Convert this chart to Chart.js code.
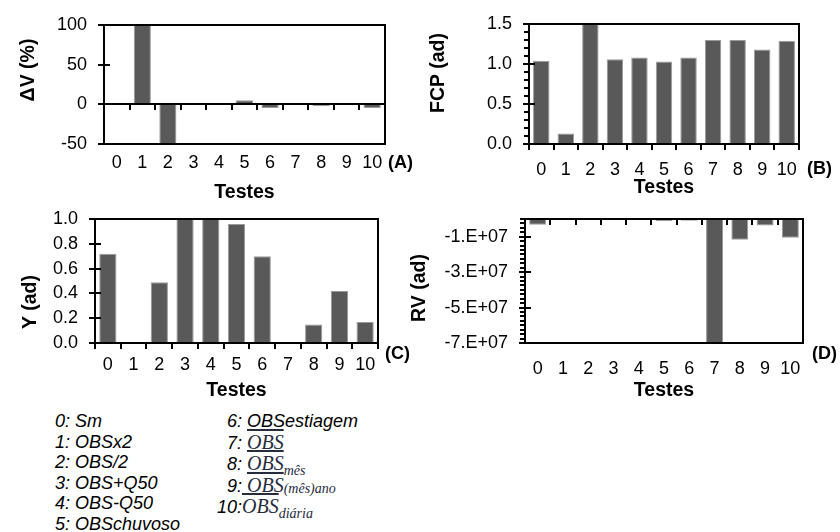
<!DOCTYPE html>
<html lang="pt">
<head>
<meta charset="utf-8">
<title>Testes</title>
<script src="https://cdn.jsdelivr.net/npm/chart.js@4.4.1/dist/chart.umd.min.js"></script>
<style>
  html, body { margin: 0; padding: 0; background: #fff; }
  #page { position: relative; width: 840px; height: 532px; overflow: hidden; font-family: 'Liberation Sans', Arial, sans-serif; color: #000; }
  #page canvas { position: absolute; }
  .ytitle { position: absolute; font-weight: bold; font-size: 19.5px; white-space: nowrap; transform: translate(-50%, -50%) rotate(-90deg); }
  .panel { position: absolute; font-weight: bold; font-size: 18px; transform: translateY(-50%); }
  .key { position: absolute; font-style: italic; font-size: 18px; line-height: 20.6px; white-space: nowrap; }
  .key .n { display: inline-block; width: 26px; text-align: right; }
  .obs { font-family: 'Liberation Serif', serif; font-style: italic; font-size: 20px; text-decoration: overline; color: #262b3d; }
  .key sub { font-family: 'Liberation Serif', serif; font-style: italic; font-size: 14px; line-height: 0; vertical-align: -5px; color: #262b3d; }
  .key sub.up { vertical-align: -1px; }
</style>
</head>
<body>
<div id="page">
  <canvas id="chartA" width="420" height="204" style="left:0;top:0"></canvas>
  <canvas id="chartB" width="420" height="199" style="left:420px;top:0"></canvas>
  <canvas id="chartC" width="420" height="202" style="left:0;top:200px"></canvas>
  <canvas id="chartD" width="420" height="202" style="left:420px;top:200px"></canvas>

  <div class="ytitle" style="left:27px;top:70px">ΔV (%)</div>
  <div class="ytitle" style="left:437px;top:73px">FCP (ad)</div>
  <div class="ytitle" style="left:29px;top:302px">Y (ad)</div>
  <div class="ytitle" style="left:418px;top:288px">RV (ad)</div>

  <div class="panel" style="left:388px;top:162px">(A)</div>
  <div class="panel" style="left:807px;top:168px">(B)</div>
  <div class="panel" style="left:385px;top:353px">(C)</div>
  <div class="panel" style="left:812px;top:353px">(D)</div>

  <div class="key" style="left:55px;top:411px">
    <div>0: Sm</div>
    <div>1: OBSx2</div>
    <div>2: OBS/2</div>
    <div>3: OBS+Q50</div>
    <div>4: OBS-Q50</div>
    <div>5: OBSchuvoso</div>
  </div>
  <div class="key" style="left:216px;top:411px">
    <div><span class="n">6:</span> OBSestiagem</div>
    <div><span class="n">7:</span> <span class="obs">OBS</span></div>
    <div><span class="n">8:</span> <span class="obs">OBS</span><sub>mês</sub></div>
    <div><span class="n">9:</span> <span class="obs">OBS</span><sub class="up">(mês)ano</sub></div>
    <div><span class="n">10:</span><span class="obs">OBS</span><sub>diária</sub></div>
  </div>
</div>

<script>
// --- data ---
const testes = ['0', '1', '2', '3', '4', '5', '6', '7', '8', '9', '10'];

const deltaV = [0, 100, -50, 0, 0, 5, -4.5, 0, -2.5, 0, -4.5];           // (A) %
const fcp    = [1.04, 0.13, 1.5, 1.06, 1.08, 1.03, 1.08, 1.3, 1.3, 1.18, 1.29]; // (B)
const yAd    = [0.72, 0, 0.49, 1.0, 1.0, 0.96, 0.70, 0, 0.15, 0.42, 0.17];  // (C)
const rv     = [-3.2e6, 0, 0, -0.6e6, 0, -1.3e6, -1.0e6, -7.0e7, -1.17e7, -3.7e6, -1.06e7]; // (D)

// major tick labels on each y axis
const deltaVTicks = [-50, 0, 50, 100];
const fcpTicks    = [0, 0.5, 1.0, 1.5];
const yAdTicks    = [0, 0.2, 0.4, 0.6, 0.8, 1.0];
const rvTicks     = [-7e7, -5e7, -3e7, -1e7];

const BAR = '#595959';
const FONT = "'Liberation Sans', Arial, sans-serif";
const LW = 2; // axis line width

const isMajor = (list, v) => list.some(t => Math.abs(t - v) < 1e-9 * Math.max(1, Math.abs(t)));

// frame, zero line and tick marks, Excel style
function axisMarks(major) {
    return {
        id: 'axisMarks',
        afterDraw(chart) {
            const ctx = chart.ctx;
            const a = chart.chartArea;
            const xs = chart.scales.x;
            const ys = chart.scales.y;
            ctx.fillStyle = '#000';
            ctx.fillRect(a.left - 1, a.top - 1, a.right - a.left + 2, LW);
            ctx.fillRect(a.left - 1, a.bottom - 1, a.right - a.left + 2, LW);
            ctx.fillRect(a.left - 1, a.top - 1, LW, a.bottom - a.top + 2);
            ctx.fillRect(a.right - 1, a.top - 1, LW, a.bottom - a.top + 2);

            const y0 = Math.round(ys.getPixelForValue(0));
            ctx.fillRect(a.left - 1, y0 - 1, a.right - a.left + 2, LW);
            for (let i = 0; i <= testes.length; i++) {
                const px = Math.round(xs.getPixelForValue(i - 0.5));
                ctx.fillRect(px - 1, y0, LW, 6);
            }
            ys.ticks.forEach(t => {
                const py = Math.round(ys.getPixelForValue(t.value));
                if (isMajor(major, t.value)) {
                    ctx.fillRect(a.left - 6, py - 1, 12, LW);
                } else {
                    ctx.fillRect(a.left - 5, py - 1, 5, LW);
                }
            });
        }
    };
}

function barPanel(id, values, yOpts, box) {
    return new Chart(document.getElementById(id), {
        type: 'bar',
        data: {
            labels: testes,
            datasets: [{
                data: values,
                backgroundColor: BAR,
                borderColor: '#9a9a9a',
                borderWidth: 1,
                categoryPercentage: 1,
                barPercentage: 0.67
            }]
        },
        options: {
            responsive: false,
            animation: false,
            layout: { padding: { top: box.top, right: box.right, left: 0, bottom: 0 } },
            plugins: {
                legend: { display: false },
                tooltip: { enabled: false }
            },
            scales: {
                x: {
                    offset: true,
                    grid: { display: false, drawTicks: false },
                    border: { display: false },
                    ticks: { color: '#000', font: { family: FONT, size: 18 }, padding: box.tickPad, maxRotation: 0, autoSkip: false },
                    title: {
                        display: true,
                        text: 'Testes',
                        color: '#000',
                        font: { family: FONT, size: 19.5, weight: 'bold' },
                        padding: { top: 0, bottom: 0 }
                    },
                    afterFit: s => { s.height = box.xHeight; }
                },
                y: {
                    min: yOpts.min,
                    max: yOpts.max,
                    grid: { display: false, drawTicks: false },
                    border: { display: false },
                    ticks: {
                        stepSize: yOpts.step,
                        autoSkip: false,
                        padding: 17,
                        color: '#000',
                        font: { family: FONT, size: 18 },
                        callback: v => isMajor(yOpts.major, v) ? yOpts.fmt(v) : ''
                    },
                    afterFit: s => { s.width = box.yWidth; s.paddingTop = 0; s.paddingBottom = 0; }
                }
            }
        },
        plugins: [axisMarks(yOpts.major)]
    });
}

barPanel('chartA', deltaV,
    { min: -50, max: 100, step: 50, major: deltaVTicks, fmt: v => String(v) },
    { top: 25, right: 35, yWidth: 104, xHeight: 60, tickPad: 8 });

barPanel('chartB', fcp,
    { min: 0, max: 1.5, step: 0.1, major: fcpTicks, fmt: v => v.toFixed(1) },
    { top: 24, right: 41, yWidth: 109, xHeight: 55, tickPad: 15 });

barPanel('chartC', yAd,
    { min: 0, max: 1, step: 0.2, major: yAdTicks, fmt: v => v.toFixed(1) },
    { top: 19, right: 42, yWidth: 95, xHeight: 59, tickPad: 11 });

barPanel('chartD', rv,
    { min: -7e7, max: 0, step: 2.5e6, major: rvTicks, fmt: v => Math.round(v / 1e7) + '.E+07' },
    { top: 19, right: 37, yWidth: 105, xHeight: 59, tickPad: 15 });
</script>
</body>
</html>
